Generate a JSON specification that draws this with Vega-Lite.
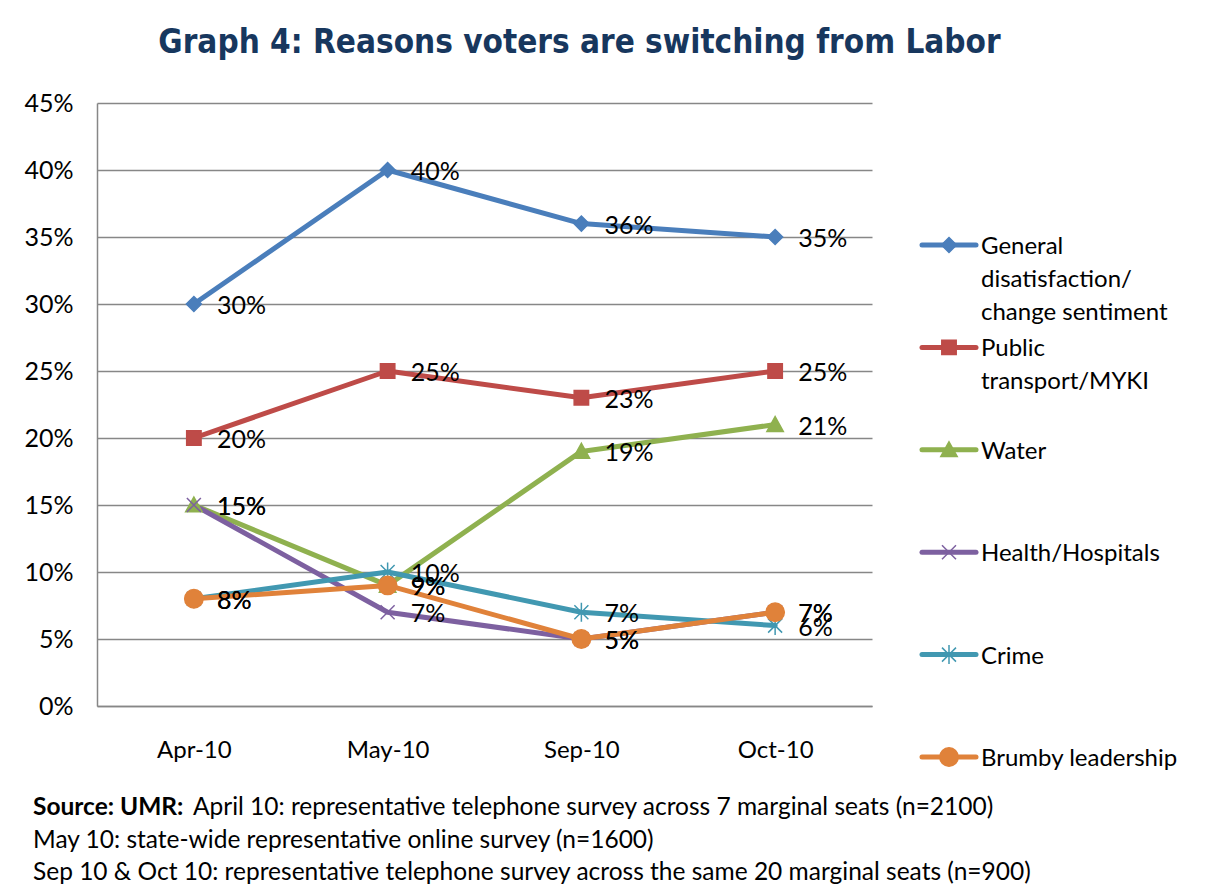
{
  "$schema": "https://vega.github.io/schema/vega-lite/v6.json",
  "width": 775,
  "height": 603,
  "autosize": {"type": "none"},
  "padding": {"left": 97, "top": 103, "right": 335, "bottom": 189},
  "background": "white",
  "title": {
    "text": "Graph 4: Reasons voters are switching from Labor",
    "anchor": "middle",
    "frame": "group",
    "dx": 95,
    "offset": 5,
    "baseline": "alphabetic",
    "font": "Liberation Sans Narrow, DejaVu Sans Condensed, sans-serif",
    "fontSize": 33,
    "fontWeight": "bold",
    "color": "#17375E"
  },
  "config": {"view": {"stroke": null}, "font": "Lato"},
  "layer": [
    {
      "data": {
        "values": [
          {"month": "Apr-10", "series": "General disatisfaction/ change sentiment", "value": 0.30},
          {"month": "May-10", "series": "General disatisfaction/ change sentiment", "value": 0.40},
          {"month": "Sep-10", "series": "General disatisfaction/ change sentiment", "value": 0.36},
          {"month": "Oct-10", "series": "General disatisfaction/ change sentiment", "value": 0.35},
          {"month": "Apr-10", "series": "Public transport/MYKI", "value": 0.20},
          {"month": "May-10", "series": "Public transport/MYKI", "value": 0.25},
          {"month": "Sep-10", "series": "Public transport/MYKI", "value": 0.23},
          {"month": "Oct-10", "series": "Public transport/MYKI", "value": 0.25},
          {"month": "Apr-10", "series": "Water", "value": 0.15},
          {"month": "May-10", "series": "Water", "value": 0.09},
          {"month": "Sep-10", "series": "Water", "value": 0.19},
          {"month": "Oct-10", "series": "Water", "value": 0.21},
          {"month": "Apr-10", "series": "Health/Hospitals", "value": 0.15},
          {"month": "May-10", "series": "Health/Hospitals", "value": 0.07},
          {"month": "Sep-10", "series": "Health/Hospitals", "value": 0.05},
          {"month": "Oct-10", "series": "Health/Hospitals", "value": 0.07},
          {"month": "Apr-10", "series": "Crime", "value": 0.08},
          {"month": "May-10", "series": "Crime", "value": 0.10},
          {"month": "Sep-10", "series": "Crime", "value": 0.07},
          {"month": "Oct-10", "series": "Crime", "value": 0.06},
          {"month": "Apr-10", "series": "Brumby leadership", "value": 0.08},
          {"month": "May-10", "series": "Brumby leadership", "value": 0.09},
          {"month": "Sep-10", "series": "Brumby leadership", "value": 0.05},
          {"month": "Oct-10", "series": "Brumby leadership", "value": 0.07}
        ]
      },
      "encoding": {
        "x": {
          "field": "month",
          "type": "nominal",
          "scale": {"type": "point", "padding": 0.5, "domain": ["Apr-10", "May-10", "Sep-10", "Oct-10"]},
          "axis": {
            "title": null,
            "labelAngle": 0,
            "ticks": false,
            "grid": false,
            "domain": true,
            "domainColor": "#878787",
            "domainWidth": 1.5,
            "labelPadding": 32,
            "labelFontSize": 24,
            "labelColor": "#000000",
            "labelFont": "Lato"
          }
        },
        "y": {
          "field": "value",
          "type": "quantitative",
          "scale": {"domain": [0, 0.45], "nice": false, "zero": true},
          "axis": {
            "title": null,
            "values": [0, 0.05, 0.1, 0.15, 0.2, 0.25, 0.3, 0.35, 0.4, 0.45],
            "format": ".0%",
            "grid": true,
            "gridColor": "#878787",
            "gridWidth": 1.5,
            "domain": true,
            "domainColor": "#878787",
            "domainWidth": 1.5,
            "ticks": false,
            "labelPadding": 24,
            "labelFontSize": 25,
            "labelColor": "#000000",
            "labelFont": "Lato"
          }
        },
        "color": {
          "field": "series",
          "type": "nominal",
          "legend": null,
          "scale": {
            "domain": ["General disatisfaction/ change sentiment", "Public transport/MYKI", "Water", "Health/Hospitals", "Crime", "Brumby leadership"],
            "range": ["#4A7EBB", "#BE4B48", "#8FB14F", "#7D60A0", "#4198B1", "#E0823A"]
          }
        }
      },
      "layer": [
        {
          "mark": {"type": "line", "strokeWidth": 5, "strokeJoin": "round", "strokeCap": "round"}
        },
        {
          "mark": {"type": "point", "filled": true, "size": 400, "strokeWidth": 1.5, "opacity": 1},
          "encoding": {
            "shape": {
              "field": "series",
              "type": "nominal",
              "legend": null,
              "scale": {
                "domain": ["General disatisfaction/ change sentiment", "Public transport/MYKI", "Water", "Health/Hospitals", "Crime", "Brumby leadership"],
                "range": [
                  "M0,-0.75L0.75,0L0,0.75L-0.75,0Z",
                  "M-0.72,-0.72L0.72,-0.72L0.72,0.72L-0.72,0.72Z",
                  "M0,-0.8L0.82,0.68L-0.82,0.68Z",
                  "M-0.7,-0.7L0.7,0.7M0.7,-0.7L-0.7,0.7",
                  "M-0.7,-0.7L0.7,0.7M0.7,-0.7L-0.7,0.7M0,-0.95L0,0.95",
                  "M0.92,0A0.92,0.92 0 1,1 -0.92,0A0.92,0.92 0 1,1 0.92,0Z"
                ]
              }
            },
            "stroke": {
              "field": "series",
              "type": "nominal",
              "legend": null,
              "scale": {
                "domain": ["General disatisfaction/ change sentiment", "Public transport/MYKI", "Water", "Health/Hospitals", "Crime", "Brumby leadership"],
                "range": ["#4A7EBB", "#BE4B48", "#8FB14F", "#7D60A0", "#4198B1", "#E0823A"]
              }
            }
          }
        },
        {
          "mark": {"type": "text", "align": "left", "baseline": "middle", "dx": 23, "dy": 2, "fontSize": 25, "font": "Lato", "color": "#000000"},
          "encoding": {
            "text": {"field": "value", "type": "quantitative", "format": ".0%"},
            "color": {"value": "#000000"}
          }
        }
      ]
    },
    {
      "data": {
        "values": [
          {"series": "General disatisfaction/ change sentiment", "label": "General\ndisatisfaction/\nchange sentiment"},
          {"series": "Public transport/MYKI", "label": "Public\ntransport/MYKI"},
          {"series": "Water", "label": "Water"},
          {"series": "Health/Hospitals", "label": "Health/Hospitals"},
          {"series": "Crime", "label": "Crime"},
          {"series": "Brumby leadership", "label": "Brumby leadership"}
        ]
      },
      "encoding": {
        "y": {
          "field": "series",
          "type": "nominal",
          "axis": null,
          "scale": {
            "type": "point",
            "padding": 0,
            "domain": ["General disatisfaction/ change sentiment", "Public transport/MYKI", "Water", "Health/Hospitals", "Crime", "Brumby leadership"],
            "range": [142, 654]
          }
        }
      },
      "layer": [
        {
          "mark": {"type": "rule", "strokeWidth": 5, "strokeCap": "round"},
          "encoding": {
            "x": {"datum": 0, "type": "quantitative", "scale": {"domain": [0, 1], "range": [825, 879]}, "axis": null},
            "x2": {"datum": 1},
            "color": {"field": "series", "type": "nominal", "legend": null}
          }
        },
        {
          "mark": {"type": "point", "filled": true, "size": 400, "strokeWidth": 1.5, "opacity": 1},
          "encoding": {
            "x": {"datum": 0.5, "type": "quantitative"},
            "color": {"field": "series", "type": "nominal", "legend": null},
            "shape": {"field": "series", "type": "nominal", "legend": null},
            "stroke": {"field": "series", "type": "nominal", "legend": null}
          }
        },
        {
          "mark": {"type": "text", "align": "left", "baseline": "top", "dx": 5, "dy": -10, "lineBreak": "\n", "lineHeight": 33, "fontSize": 24, "font": "Lato", "color": "#000000"},
          "encoding": {
            "x": {"datum": 1, "type": "quantitative"},
            "text": {"field": "label", "type": "nominal"}
          }
        }
      ]
    },
    {
      "data": {
        "values": [
          {"line": 1, "weight": "bold", "start": 0, "text": "Source: UMR:"},
          {"line": 1, "weight": "normal", "start": 1, "text": "April 10: representative telephone survey across 7 marginal seats (n=2100)"},
          {"line": 2, "weight": "normal", "start": 0, "text": "May 10: state-wide representative online survey (n=1600)"},
          {"line": 3, "weight": "normal", "start": 0, "text": "Sep 10 & Oct 10: representative telephone survey across the same 20 marginal seats (n=900)"}
        ]
      },
      "encoding": {
        "x": {"field": "start", "type": "quantitative", "scale": {"domain": [0, 1], "range": [-64, 96]}, "axis": null},
        "y": {"field": "line", "type": "ordinal", "scale": {"type": "point", "padding": 0, "range": [705, 770]}, "axis": null},
        "text": {"field": "text", "type": "nominal"}
      },
      "layer": [
        {
          "transform": [{"filter": "datum.weight == 'bold'"}],
          "mark": {"type": "text", "align": "left", "baseline": "middle", "fontSize": 24.5, "fontWeight": "bold", "font": "Lato", "color": "#000000"}
        },
        {
          "transform": [{"filter": "datum.weight == 'normal'"}],
          "mark": {"type": "text", "align": "left", "baseline": "middle", "fontSize": 24.5, "font": "Lato", "color": "#000000"}
        }
      ]
    }
  ],
  "resolve": {"scale": {"x": "independent", "y": "independent"}}
}
